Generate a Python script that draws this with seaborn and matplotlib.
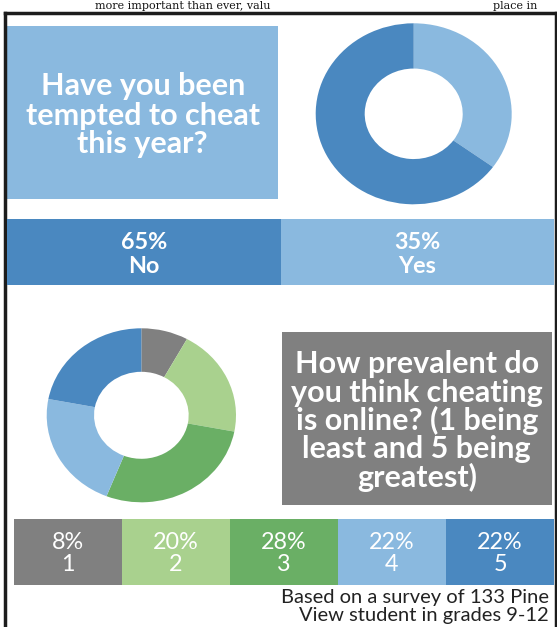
import matplotlib
matplotlib.use("Agg")
import matplotlib.pyplot as plt
import seaborn as sns
import pandas as pd
from matplotlib.patches import Rectangle

# ---------------- data ----------------
q1_title = ["Have you been", "tempted to cheat", "this year?"]
q1_answers = ["No", "Yes"]
q1_percent = [65, 35]
q1_pie_order = ["Yes", "No"]          # clockwise from 12 o'clock

q2_title = ["How prevalent do", "you think cheating", "is online? (1 being",
            "least and 5 being", "greatest)"]
q2_ratings = ["1", "2", "3", "4", "5"]
q2_percent = [8, 20, 28, 22, 22]

footer_lines = ["Based on a survey of 133 Pine", "View student in grades 9-12"]
column_text = ["more important than ever, valu", "place in"]

# ---------------- style ----------------
DARK_BLUE = "#4a88c0"
LIGHT_BLUE = "#8ab9df"
GRAY = "#808080"
LIGHT_GREEN = "#a9d18e"
GREEN = "#6aaf65"
q1_colors = {"No": DARK_BLUE, "Yes": LIGHT_BLUE}
q2_colors = [GRAY, LIGHT_GREEN, GREEN, LIGHT_BLUE, DARK_BLUE]

W, H = 557, 627
sns.set_theme(style="white")
plt.rcParams["font.family"] = ["Lato", "DejaVu Sans"]

fig = plt.figure(figsize=(W / 100, H / 100), dpi=100)
fig.patch.set_facecolor("white")


def px_axes(x0, y0, x1, y1, z=1):
    ax = fig.add_axes([x0 / W, 1 - y1 / H, (x1 - x0) / W, (y1 - y0) / H], zorder=z)
    ax.set_axis_off()
    return ax


bg = px_axes(0, 0, W, H, z=0)
bg.set_xlim(0, W)
bg.set_ylim(H, 0)

# neighbouring newspaper column text above the frame (kept fully inside the canvas)
for x, t in zip([95, 493], column_text):
    bg.text(x, 9.0, t, family="DejaVu Serif", fontsize=8,
            color="#151515", va="baseline", ha="left", zorder=1)

# frame
fc = "#1c1c1c"
bg.plot([5.3, 5.3], [H + 10, 12.8], color=fc, lw=2.5, solid_capstyle="projecting", zorder=2)
bg.plot([5.3, W + 10], [12.8, 12.8], color=fc, lw=2.5, solid_capstyle="projecting", zorder=2)
bg.plot([555.6, 555.6], [12.8, H + 10], color=fc, lw=2.5, solid_capstyle="projecting", zorder=2)

# question boxes
bg.add_patch(Rectangle((7.3, 25.7), 271, 173.3, facecolor=LIGHT_BLUE, lw=0))
for i, line in enumerate(q1_title):
    bg.text(142.8, 95.5 + 29 * i, line, ha="center", va="baseline",
            fontsize=22, fontweight="bold", color="white", zorder=3)

bg.add_patch(Rectangle((281.7, 331.7), 269.8, 173.3, facecolor=GRAY, lw=0))
for i, line in enumerate(q2_title):
    bg.text(416.8, 373.5 + 28.3 * i, line, ha="center", va="baseline",
            fontsize=22, fontweight="bold", color="white", zorder=3)

# footer
for i, line in enumerate(footer_lines):
    bg.text(549, 602.7 + 18 * i, line, ha="right", va="baseline",
            fontsize=14.5, color="#222222", zorder=3)

# ---------------- donuts ----------------
ax1 = px_axes(315.7, 23.3, 511.7, 204.3, z=2)
vals1 = [q1_percent[q1_answers.index(a)] for a in q1_pie_order]
ax1.pie(vals1, colors=[q1_colors[a] for a in q1_pie_order], startangle=90,
        counterclock=False, radius=1, wedgeprops=dict(width=0.5, linewidth=0))
ax1.set_aspect("auto")
ax1.set_xlim(-1, 1)
ax1.set_ylim(-1, 1)

ax2 = px_axes(46.7, 328.3, 236, 502.3, z=2)
ax2.pie(q2_percent, colors=q2_colors, startangle=90, counterclock=False,
        radius=1, wedgeprops=dict(width=0.5, linewidth=0))
ax2.set_aspect("auto")
ax2.set_xlim(-1, 1)
ax2.set_ylim(-1, 1)


# ---------------- label strips ----------------
def strip(x0, y0, x1, y1, labels, pcts, colors, weight, b1, b2):
    ax = px_axes(x0, y0, x1, y1, z=2)
    df = pd.DataFrame({"label": labels, "pct": pcts, "cell": [1] * len(labels)})
    sns.barplot(data=df, x="label", y="cell", hue="label", palette=colors,
                width=1.0, saturation=1, linewidth=0, legend=False, ax=ax)
    ax.set_xlim(-0.5, len(labels) - 0.5)
    ax.set_ylim(0, 1)
    ax.set_axis_off()
    tr = ax.get_xaxis_transform()
    for i, (lab, p) in enumerate(zip(labels, pcts)):
        ax.text(i, b1, f"{p}%", transform=tr, ha="center", va="baseline",
                fontsize=16.8, fontweight=weight, color="white")
        ax.text(i, b2, lab, transform=tr, ha="center", va="baseline",
                fontsize=16.8, fontweight=weight, color="white")
    return ax


strip(7.3, 219.2, 554.2, 285.3, q1_answers, q1_percent,
      [q1_colors[a] for a in q1_answers], "bold", 0.55, 0.185)
strip(13.5, 518.5, 554.2, 584.5, q2_ratings, q2_percent, q2_colors,
      "normal", 0.542, 0.205)

fig.savefig("out.png", dpi=100)
